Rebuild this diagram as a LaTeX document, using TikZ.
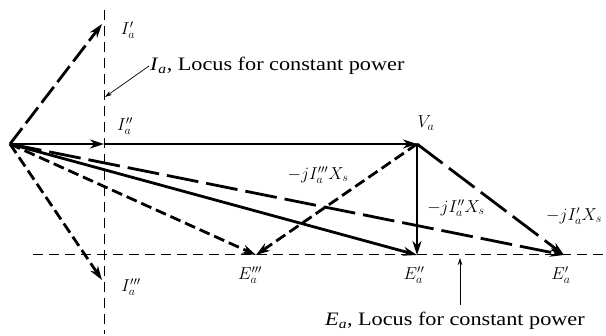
\documentclass[tikz,border=0pt]{standalone}
\usepackage{fontspec}
\setmainfont{Liberation Serif}
\newfontfamily\widefont[FakeStretch=1.17]{Liberation Serif}
\usetikzlibrary{arrows.meta}
\begin{document}
\begin{tikzpicture}[x=1pt,y=-1pt,
  vec/.style={line width=2.8pt,-{Stealth[length=14pt,width=9pt]}},
  dsh/.style={dash pattern=on 11pt off 5pt},
  ldsh/.style={dash pattern=on 32pt off 8pt},
  idsh/.style={dash pattern=on 20pt off 6pt},
  locus/.style={line width=1pt,dash pattern=on 10pt off 6pt},
  pointer/.style={line width=0.7pt,-{Stealth[length=7pt,width=4.5pt]}},
  lbl/.style={font=\fontsize{18}{20}\selectfont,inner sep=1pt},
  txt/.style={font=\fontsize{19}{22}\widefont,inner sep=1pt}]
\useasboundingbox (0,0) rectangle (606,336);
\coordinate (O) at (10,144);
\coordinate (Ip) at (102,24);
\coordinate (Ipp) at (104,144);
\coordinate (Ippp) at (102,280);
\coordinate (V) at (417,144);
\coordinate (E3) at (256,255);
\coordinate (E2) at (417,255);
\coordinate (E1) at (564,255);
\coordinate (Vt) at (104,10);
\coordinate (Vb) at (104,334);
\coordinate (Hl) at (33,255);
\coordinate (Hr) at (606,255);
\coordinate (Pa) at (105,97);
\coordinate (Pe) at (460,258);
\coordinate (Ps) at (460,305);
% loci
\draw[locus] (Vt) -- (Vb);
\draw[locus] (Hl) -- (Hr);
% current vectors
\draw[vec,idsh] (O) -- (Ip);
\draw[vec] (O) -- (Ipp);
\draw[vec] (Ipp) -- (V);
\draw[vec,dsh] (O) -- (Ippp);
% E vectors
\draw[vec,dsh] (O) -- (E3);
\draw[vec] (O) -- (E2);
\draw[vec,ldsh] (O) -- (E1);
% jX drops
\draw[vec,dsh] (V) -- (E3);
\draw[vec] (V) -- (E2);
\draw[vec,ldsh] (V) -- (E1);
% labels
\node[lbl] (lIp) at (128,30) {$I'_a$};
\node[lbl] (lIpp) at (125,126) {$I''_a$};
\node[lbl] (lIppp) at (131,287) {$I'''_a$};
\node[lbl] (lV) at (426,123) {$V_a$};
\node[lbl] (lE3) at (250,275) {$E'''_a$};
\node[lbl] (lE2) at (414,275) {$E''_a$};
\node[lbl] (lE1) at (561,275) {$E'_a$};
\node[lbl] (lj3) at (318,175) {$-jI'''_a X_s$};
\node[lbl] (lj2) at (456,208) {$-jI''_a X_s$};
\node[lbl] (lj1) at (574,216) {$-jI'_a X_s$};
\node[txt,anchor=west] (tIa) at (149,66) {\textit{I}\textsubscript{\textit{a}}, Locus for constant power};
\node[txt,anchor=west] (tEa) at (324,321) {\textit{E}\textsubscript{\textit{a}}, Locus for constant power};
\draw[pointer] (tIa.west) -- (Pa);
\draw[pointer] (Ps) -- (Pe);
\end{tikzpicture}
\end{document}
